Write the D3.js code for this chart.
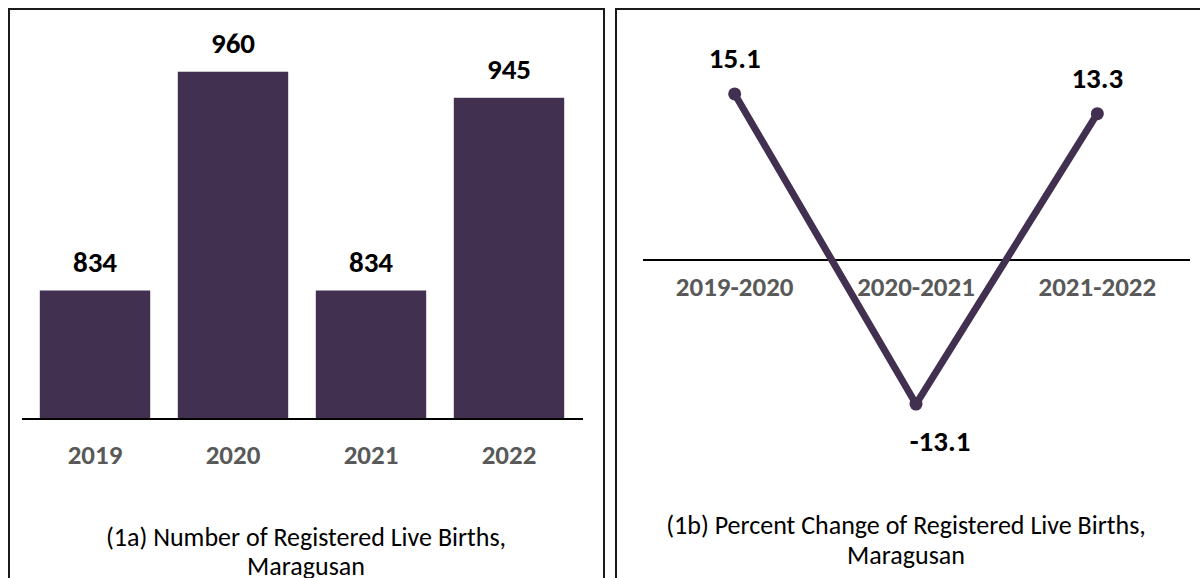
<!DOCTYPE html>
<html>
<head>
<meta charset="utf-8">
<title>Registered Live Births, Maragusan</title>
<style>
  * { margin: 0; padding: 0; }
  body { background: #fff; }
  text { font-family: Carlito, Calibri, Lato, sans-serif; }
  .frame { fill: none; stroke: #1a1a1a; stroke-width: 2px; }
  .val { font-weight: bold; fill: #000; font-size: 29px; text-anchor: middle; }
  .cat { font-weight: bold; fill: #595959; font-size: 27px; text-anchor: middle; }
  .cap { fill: #000; font-size: 26px; text-anchor: middle; }
</style>
</head>
<body>
<script src="https://cdn.jsdelivr.net/npm/d3@7"></script>
<script>
// data
var years = ['2019', '2020', '2021', '2022'];
var births = [834, 960, 834, 945];
var periods = ['2019-2020', '2020-2021', '2021-2022'];
var pctChange = [15.1, -13.1, 13.3];

var color = '#41304f';

var svg = d3.select('body').append('svg')
  .attr('width', 1200)
  .attr('height', 578);

// panel borders
svg.append('rect').attr('class', 'frame')
  .attr('x', 9).attr('y', 9).attr('width', 595).attr('height', 600);
svg.append('rect').attr('class', 'frame')
  .attr('x', 616).attr('y', 9).attr('width', 600).attr('height', 600);

// ---- (1a) bars ----
var x1 = d3.scaleBand().domain(years).range([26, 578]).paddingInner(0.2).paddingOuter(0.1);
var y1 = d3.scaleLinear().domain([760, 980]).range([419, 37]);

var g1 = svg.append('g');
g1.selectAll('.bar')
  .data(births)
  .enter()
  .append('rect')
  .attr('class', 'bar')
  .attr('x', (d, i) => x1(years[i]))
  .attr('width', x1.bandwidth())
  .attr('y', d => y1(d))
  .attr('height', d => y1(760) - y1(d))
  .attr('fill', color);

g1.selectAll('.val')
  .data(births)
  .enter()
  .append('text')
  .attr('class', 'val')
  .attr('x', (d, i) => x1(years[i]) + x1.bandwidth() / 2)
  .attr('y', d => y1(d) - 19)
  .text(d => d);

// axis line + category labels
var ax1 = g1.append('g').attr('transform', 'translate(0,' + y1(760) + ')')
  .call(d3.axisBottom(x1).tickSize(0).tickPadding(26));
ax1.select('.domain').attr('stroke', '#000').attr('stroke-width', 2)
  .attr('d', 'M22,0H583');
ax1.selectAll('text').attr('class', 'cat').attr('font-size', null).attr('font-family', null).attr('fill', null);

g1.append('text').attr('class', 'cap').attr('x', 306).attr('y', 546)
  .text('(1a) Number of Registered Live Births,');
g1.append('text').attr('class', 'cap').attr('x', 306).attr('y', 575)
  .text('Maragusan');

// ---- (1b) percent change line ----
var x2 = d3.scaleBand().domain(periods).range([644, 1188]);
var y2 = d3.scaleLinear().domain([-20, 20]).range([480, 40]);
var cx = (d, i) => x2(periods[i]) + x2.bandwidth() / 2;

var g2 = svg.append('g');

var ax2 = g2.append('g').attr('transform', 'translate(0,' + y2(0) + ')')
  .call(d3.axisBottom(x2).tickSize(0).tickPadding(17));
ax2.select('.domain').attr('stroke', '#000').attr('stroke-width', 2)
  .attr('d', 'M643,0H1190');
ax2.selectAll('text').attr('class', 'cat').attr('font-size', null).attr('font-family', null).attr('fill', null);

g2.append('path')
  .datum(pctChange)
  .attr('fill', 'none')
  .attr('stroke', color)
  .attr('stroke-width', 7)
  .attr('stroke-linejoin', 'round')
  .attr('d', d3.line().x(cx).y(d => y2(d)));

g2.selectAll('.dot')
  .data(pctChange)
  .enter()
  .append('circle')
  .attr('cx', cx)
  .attr('cy', d => y2(d))
  .attr('r', 6.5)
  .attr('fill', color);

g2.selectAll('.val')
  .data(pctChange)
  .enter()
  .append('text')
  .attr('class', 'val')
  .attr('x', (d, i) => cx(d, i) + (d < 0 ? 24 : 0))
  .attr('y', d => d < 0 ? y2(d) + 47 : y2(d) - 26)
  .text(d => d.toFixed(1));

g2.append('text').attr('class', 'cap').attr('x', 906).attr('y', 534)
  .text('(1b) Percent Change of Registered Live Births,');
g2.append('text').attr('class', 'cap').attr('x', 906).attr('y', 564)
  .text('Maragusan');
</script>
</body>
</html>
